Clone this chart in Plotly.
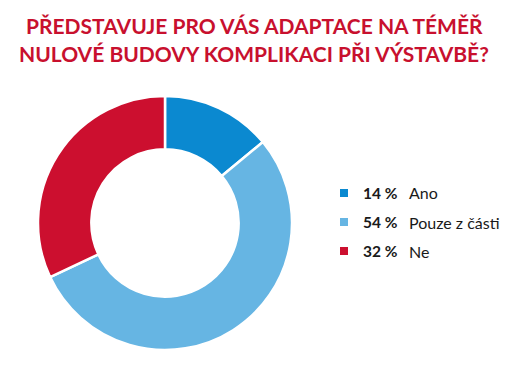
import plotly.graph_objects as go

labels = ["Ano", "Pouze z části", "Ne"]
values = [14, 54, 32]
colors = ["#0b89d0", "#66b5e3", "#cc0f2f"]
title_lines = ["PŘEDSTAVUJE PRO VÁS ADAPTACE NA TÉMĚŘ", "NULOVÉ BUDOVY KOMPLIKACI PŘI VÝSTAVBĚ?"]

# page has 8px body margin; work in page pixel coordinates and convert
OFF = 8
W, H = 508, 360


def px(x):
    return (x - OFF) / W


def py(y):
    return 1 - (y - OFF) / H


fig = go.Figure()
fig.add_trace(go.Pie(
    labels=labels, values=values, hole=0.58, sort=False, direction="clockwise", rotation=0,
    marker=dict(colors=colors, line=dict(color="white", width=2.5)),
    textinfo="none", hoverinfo="label+percent", showlegend=False,
    domain=dict(x=[px(38), px(292)], y=[py(350), py(96)]),
))

annotations = []
for i, line in enumerate(title_lines):
    annotations.append(dict(text=f"<b>{line}</b>", x=px(254), y=py(25.5 + 28 * i), xref="paper", yref="paper",
                            xanchor="center", yanchor="middle", showarrow=False,
                            font=dict(family="Lato", size=21, color="#c8102e")))
shapes = []
row_y = [193, 222, 251]
for lab, val, col, yy in zip(labels, values, colors, row_y):
    shapes.append(dict(type="rect", xref="paper", yref="paper",
                       x0=px(340), x1=px(348), y0=py(yy + 4), y1=py(yy - 4),
                       fillcolor=col, line=dict(width=0)))
    annotations.append(dict(text=f"<b>{val} %</b>", x=px(361), y=py(yy), xref="paper", yref="paper",
                            xanchor="left", yanchor="middle", showarrow=False,
                            font=dict(family="Lato", size=15.5, color="#1a1a1a")))
    annotations.append(dict(text=lab, x=px(407), y=py(yy), xref="paper", yref="paper",
                            xanchor="left", yanchor="middle", showarrow=False,
                            font=dict(family="Lato", size=16, color="#1a1a1a")))

fig.update_layout(width=W, height=H, margin=dict(l=0, r=0, t=0, b=0),
                  paper_bgcolor="white", plot_bgcolor="white",
                  annotations=annotations, shapes=shapes)
fig.write_html("out.html")
